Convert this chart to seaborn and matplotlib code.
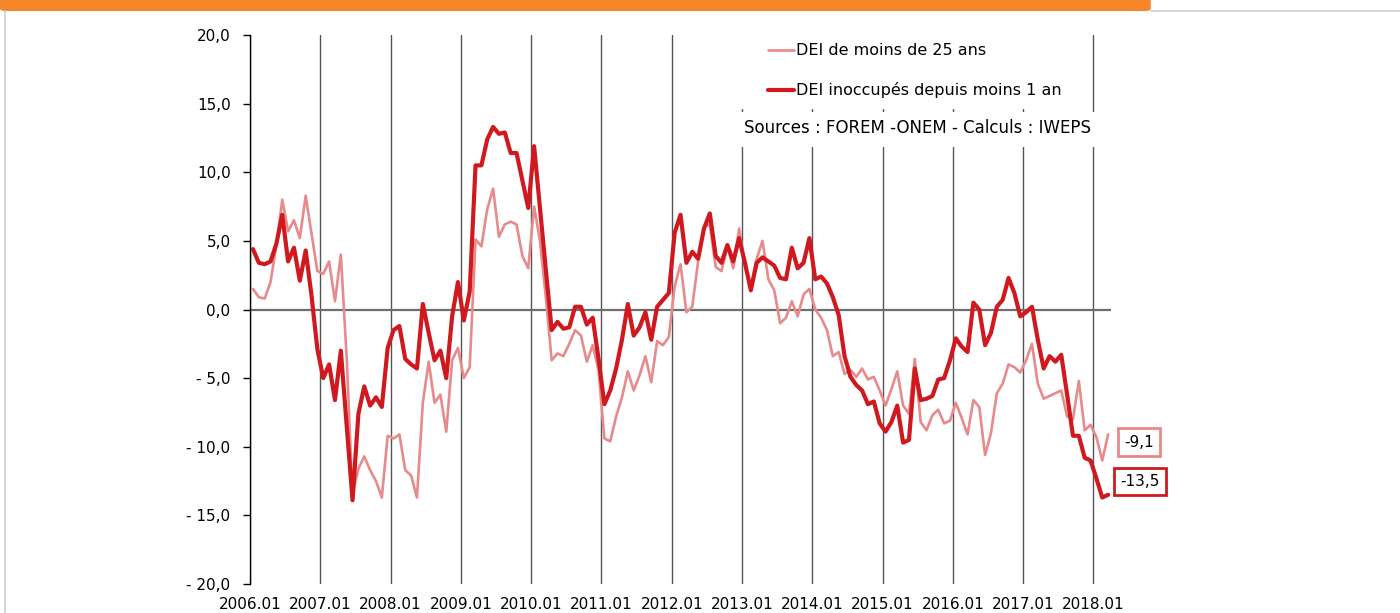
import numpy as np
import pandas as pd
import matplotlib.pyplot as plt
import seaborn as sns
from matplotlib.patches import Rectangle, FancyBboxPatch
from matplotlib.lines import Line2D
from matplotlib.ticker import FuncFormatter, FixedLocator

# Evolution annuelle (%) des DEI, données mensuelles 2006.01 -> 2018.03
mois = pd.period_range("2006-01", periods=147, freq="M")

# DEI de moins de 25 ans
dei_moins_25 = [
    1.5, 0.9, 0.8, 2.0, 4.7, 8.0, 5.7, 6.5, 5.2, 8.3, 5.5, 2.8,
    2.6, 3.5, 0.6, 4.0, -3.5, -13.5, -11.6, -10.7, -11.7, -12.5, -13.7, -9.2,
    -9.4, -9.1, -11.7, -12.1, -13.7, -6.8, -3.8, -6.8, -6.2, -8.9, -3.7, -2.8,
    -5.0, -4.2, 5.1, 4.6, 7.3, 8.8, 5.3, 6.2, 6.4, 6.2, 3.9, 3.0,
    7.5, 5.0, 0.9, -3.7, -3.2, -3.4, -2.5, -1.5, -1.9, -3.8, -2.6, -4.4,
    -9.4, -9.6, -7.8, -6.4, -4.5, -5.9, -4.8, -3.4, -5.3, -2.3, -2.6, -2.0,
    1.7, 3.3, -0.2, 0.2, 3.5, 6.0, 6.2, 3.1, 2.8, 4.6, 3.0, 5.9,
    3.1, 1.7, 3.7, 5.0, 2.2, 1.4, -1.0, -0.6, 0.6, -0.5, 1.1, 1.5,
    0.0, -0.6, -1.5, -3.4, -3.1, -4.7, -4.4, -4.9, -4.3, -5.1, -4.9, -5.9,
    -7.0, -5.8, -4.5, -7.0, -7.6, -3.6, -8.2, -8.8, -7.7, -7.3, -8.3, -8.1,
    -6.8, -7.9, -9.1, -6.6, -7.1, -10.6, -9.0, -6.1, -5.4, -4.0, -4.2, -4.6,
    -3.7, -2.5, -5.4, -6.5, -6.3, -6.1, -5.9, -7.8, -8.0, -5.2, -8.8, -8.4,
    -9.3, -11.0, -9.1,
]

# DEI inoccupés depuis moins 1 an
dei_moins_1an = [
    4.4, 3.4, 3.3, 3.5, 4.8, 6.9, 3.5, 4.5, 2.1, 4.3, 1.0, -2.9,
    -5.0, -4.0, -6.6, -3.0, -8.4, -13.9, -7.6, -5.6, -7.0, -6.4, -7.1, -2.8,
    -1.5, -1.2, -3.6, -4.0, -4.3, 0.4, -1.7, -3.7, -3.0, -5.0, -0.5, 2.0,
    -0.8, 1.3, 10.5, 10.5, 12.4, 13.3, 12.8, 12.9, 11.4, 11.4, 9.4, 7.4,
    11.9, 7.4, 2.9, -1.5, -0.9, -1.4, -1.3, 0.2, 0.2, -1.1, -0.6, -3.6,
    -6.9, -5.9, -4.3, -2.2, 0.4, -1.9, -1.3, -0.2, -2.2, 0.2, 0.7, 1.2,
    5.6, 6.9, 3.4, 4.2, 3.7, 5.9, 7.0, 3.9, 3.4, 4.7, 3.5, 5.2,
    3.4, 1.4, 3.4, 3.8, 3.5, 3.2, 2.3, 2.2, 4.5, 3.0, 3.4, 5.2,
    2.2, 2.4, 1.9, 0.9, -0.4, -3.4, -4.9, -5.5, -5.9, -6.9, -6.7, -8.3,
    -8.9, -8.2, -7.0, -9.7, -9.5, -4.3, -6.6, -6.5, -6.3, -5.1, -5.0, -3.7,
    -2.1, -2.7, -3.1, 0.5, 0.0, -2.6, -1.7, 0.2, 0.7, 2.3, 1.2, -0.5,
    -0.2, 0.2, -2.2, -4.3, -3.4, -3.8, -3.3, -6.2, -9.2, -9.2, -10.8, -11.0,
    -12.3, -13.7, -13.5,
]

annees_ticks = list(range(2006, 2019))
labels_ticks = [f"{a}.01" for a in annees_ticks]

serie_25 = "DEI de moins de 25 ans"
serie_1an = "DEI inoccupés depuis moins 1 an"
couleur_25 = "#E88A8B"
couleur_1an = "#D0191F"

sns.set_theme(style="white")
plt.rcParams["font.family"] = ["DejaVu Sans"]
plt.rcParams["text.color"] = "black"
plt.rcParams["xtick.color"] = "black"
plt.rcParams["ytick.color"] = "black"

df = pd.DataFrame({
    "mois": np.arange(len(mois)) + 0.5,  # catégories centrées entre les graduations
    serie_25: dei_moins_25,
    serie_1an: dei_moins_1an,
})

fig = plt.figure(figsize=(14, 6.13), dpi=100)
ax = fig.add_axes([0.1786, 0.0473, 0.615, 0.8956])

# bandeau orange + cadre gris (décor de la page)
fig.patches.append(FancyBboxPatch((0.0, 0.982), 0.822, 0.03, boxstyle="round,pad=0,rounding_size=0.004",
                                  transform=fig.transFigure, facecolor="#F5872A", edgecolor="none"))
fig.add_artist(Line2D([0.822, 1.0], [0.982, 0.982], color="#cfcfcf", lw=1.2, transform=fig.transFigure))
fig.add_artist(Line2D([0.0035, 0.0035], [0.0, 0.982], color="#cfcfcf", lw=1.2, transform=fig.transFigure))

sns.lineplot(data=df, x="mois", y=serie_25, color=couleur_25, lw=1.9, ax=ax, zorder=3)
sns.lineplot(data=df, x="mois", y=serie_1an, color=couleur_1an, lw=3.0, ax=ax, zorder=4)

ax.set_xlim(0, len(mois))
ax.set_ylim(-20, 20)
ax.xaxis.set_major_locator(FixedLocator([12 * k for k in range(len(annees_ticks))]))
ax.set_xticklabels(labels_ticks, fontsize=11)
ax.set_yticks(np.arange(-20, 21, 5))


def fmt_y(v, pos):
    if v < 0:
        return "- " + f"{abs(v):.1f}".replace(".", ",")
    return f"{v:.1f}".replace(".", ",")


ax.yaxis.set_major_formatter(FuncFormatter(fmt_y))
ax.tick_params(axis="y", labelsize=11, length=5, width=1, color="black", labelcolor="black", pad=9, left=True)
ax.tick_params(axis="x", length=0, pad=9, labelcolor="black")
ax.set_xlabel("")
ax.set_ylabel("")

ax.grid(axis="x", color="#555555", lw=1.0, zorder=1)
ax.grid(axis="y", visible=False)
ax.axhline(0, color="#6e6e6e", lw=1.6, zorder=2)

for s in ["top", "right", "bottom"]:
    ax.spines[s].set_visible(False)
ax.spines["left"].set_color("black")
ax.spines["left"].set_linewidth(1.0)

# fonds blancs de la légende et de la source
ax.add_patch(Rectangle((0.569, 0.866), 0.405, 0.14, transform=ax.transAxes,
                       facecolor="white", edgecolor="none", zorder=2.5, clip_on=False))
ax.add_patch(Rectangle((0.567, 0.796), 0.418, 0.063, transform=ax.transAxes,
                       facecolor="white", edgecolor="none", zorder=2.5, clip_on=False))

poignees = [Line2D([], [], color=couleur_25, lw=1.9), Line2D([], [], color=couleur_1an, lw=3.0)]
leg = ax.legend(poignees, [serie_25, serie_1an], loc="upper left", bbox_to_anchor=(0.6016, 0.985),
                frameon=False, fontsize=11.5, handlelength=1.65, handletextpad=0.1,
                labelspacing=1.5, borderpad=0, borderaxespad=0)
leg.set_zorder(6)
for t in leg.get_texts():
    t.set_color("black")

ax.text(0.7747, 0.8306, "Sources : FOREM -ONEM - Calculs : IWEPS", transform=ax.transAxes,
        ha="center", va="center", fontsize=12, color="black", zorder=6)

# étiquettes de la dernière valeur
x_fin = df["mois"].iloc[-1]
for valeur, couleur, decalage in [(dei_moins_25[-1], couleur_25, (22, -5.5)),
                                  (dei_moins_1an[-1], couleur_1an, (23, 9.6))]:
    ax.annotate(f"{valeur:.1f}".replace(".", ","), xy=(x_fin, valeur), xytext=decalage,
                textcoords="offset points", ha="center", va="center", fontsize=11,
                color="black", annotation_clip=False,
                bbox=dict(boxstyle="square,pad=0.4", facecolor="white", edgecolor=couleur, lw=2))

fig.savefig("out.png", dpi=100)
